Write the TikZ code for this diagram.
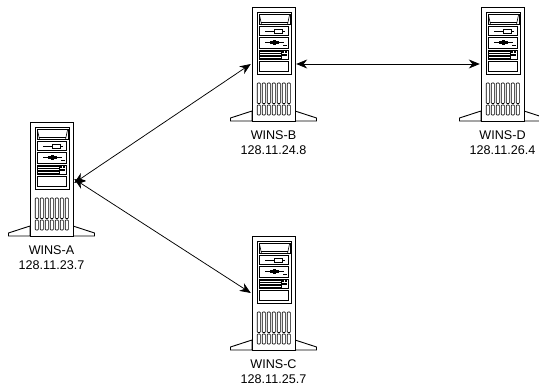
\documentclass[tikz,border=0pt]{standalone}
\usepackage{fontspec}
\setmainfont{Liberation Sans}
\usetikzlibrary{arrows.meta}
\tikzset{
  px/.style={x=1pt,y=-1pt},
  hw/.style={draw=black,line width=0.9pt,fill=white},
  thin part/.style={draw=black,line width=0.6pt},
  link/.style={draw=black,line width=0.75pt,{Stealth[length=11pt,width=9pt]}-{Stealth[length=11pt,width=9pt]}},
  lbl/.style={font=\fontsize{12.6}{15}\selectfont,align=center,anchor=center,inner sep=0pt},
  towerbox/.style={minimum width=43pt,minimum height=114pt,inner sep=0pt,draw=none}
}
% #1 name, #2 tower left, #3 tower top, #4 name text, #5 address
\newcommand{\serverat}[5]{%
  \node[towerbox] (#1) at (#2+21.5,#3+57) {};
  \begin{scope}[shift={(#2,#3)}]
    \draw[hw] (0,104) -- (-21.5,111) -- (-21.5,114) -- (0,114) -- cycle;
    \draw[hw] (43,104) -- (64.5,111) -- (64.5,114) -- (43,114) -- cycle;
    \draw[hw] (0,0) rectangle (43,114);
    \draw[thin part] (5,5) rectangle (39.5,67.5);
    % display
    \draw[thin part] (7,7.5) rectangle (38,17.8);
    \draw[thin part] (7.5,8) -- (9.5,17.5);
    \draw[thin part] (37.5,8) -- (35.5,17.5);
    \draw[thin part] (9,15) -- (36,15);
    % drive 1
    \draw[thin part] (7.7,19.5) rectangle (36,28.5);
    \draw[thin part] (13,24) -- (22,24);
    \draw[thin part] (22,22) rectangle (30,26);
    \draw[thin part] (30,24) -- (33,24);
    % drive 2
    \draw[thin part] (7.7,30.7) rectangle (36,41.5);
    \draw[line width=0.7pt] (13,35.5) -- (18,35.5);
    \fill (18,34.3) rectangle (27,36.9);
    \fill (21,33.1) rectangle (24,38.1);
    \draw[line width=0.7pt] (27,35.5) -- (32,35.5);
    \fill (30.5,37.8) rectangle (35,39.4);
    % lines block
    \draw[thin part] (7.7,43) rectangle (36,52.7);
    \foreach \yy in {44.5,46.2,47.9,49.6,51.2}{\draw[line width=0.55pt] (8,\yy) -- (29,\yy);}
    \draw[thin part] (29,43) rectangle (36,52.7);
    \fill (30,44) rectangle (32.2,46.5);
    \fill (33,44) rectangle (35.2,46.5);
    \fill (30,47.5) rectangle (35.2,49.5);
    % blank
    \draw[thin part] (7.7,54.5) rectangle (36,64.5);
    % vents
    \foreach \xx in {5.2,10.2,15.2,20.2,25.2,30.2,35.2}{
      \draw[thin part,rounded corners=0.8pt] (\xx,76) rectangle (\xx+3.2,96.5);
      \draw[thin part,rounded corners=0.8pt] (\xx,98) rectangle (\xx+3.2,108);
    }
  \end{scope}
  \node[lbl] (#1-text) at (#2+21.5,#3+135.3) {#4\\#5};
}
\begin{document}
\begin{tikzpicture}[px]
\useasboundingbox (0,0) rectangle (539,387);
\serverat{A}{30}{122}{WINS-A}{128.11.23.7}
\serverat{B}{252}{7}{WINS-B}{128.11.24.8}
\serverat{C}{252}{236}{WINS-C}{128.11.25.7}
\serverat{D}{481}{7}{WINS-D}{128.11.26.4}
\draw[link] ([yshift=-4pt,xshift=1pt]A.east) -- ([xshift=-1pt]B.west);
\draw[link] ([xshift=1pt]A.east) -- ([xshift=-1pt]C.west);
\draw[link] ([xshift=1pt]B.east) -- ([xshift=-1pt]D.west);
\end{tikzpicture}
\end{document}
